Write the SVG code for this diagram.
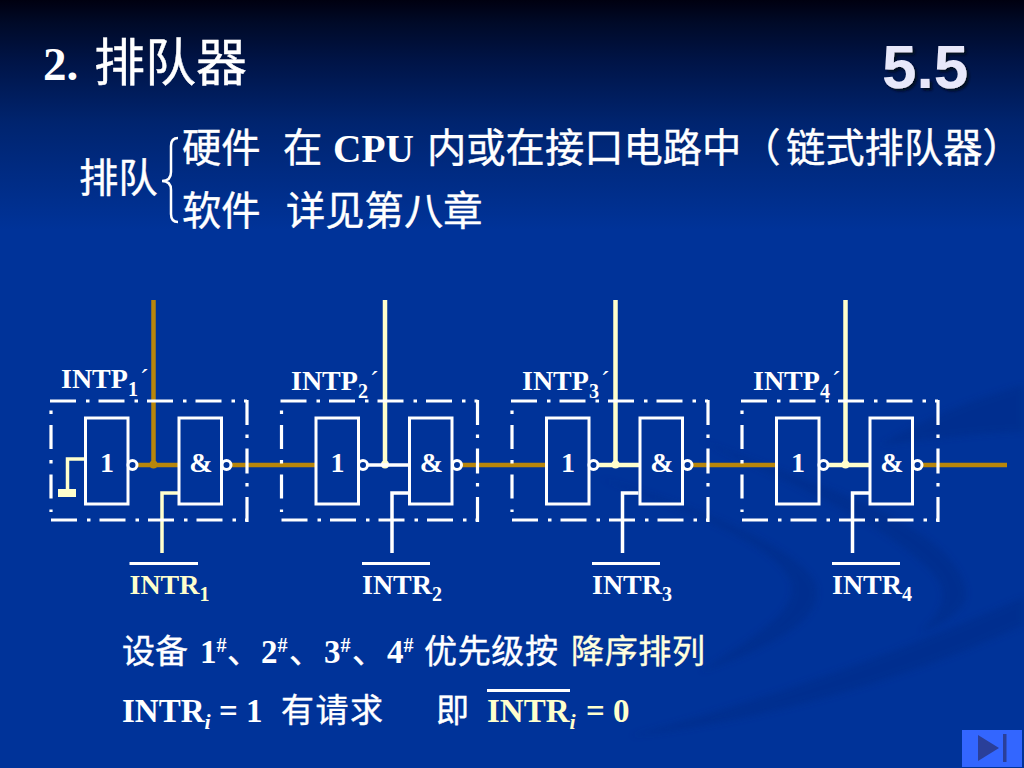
<svg xmlns="http://www.w3.org/2000/svg" width="1024" height="768" viewBox="0 0 1024 768">
<defs>
<linearGradient id="bg" x1="0" y1="0" x2="0" y2="1">
<stop offset="0" stop-color="#000010"/><stop offset="0.03" stop-color="#000a28"/><stop offset="0.08" stop-color="#001447"/><stop offset="0.16" stop-color="#00246f"/><stop offset="0.3" stop-color="#003399"/><stop offset="1" stop-color="#003399"/>
</linearGradient>
<filter id="soft" x="-10%" y="-10%" width="120%" height="120%"><feGaussianBlur stdDeviation="3"/></filter>
<filter id="shadow" x="-10%" y="-10%" width="120%" height="120%"><feDropShadow dx="2.500" dy="2.500" stdDeviation="1" flood-color="#000820"/></filter>
<g id="frame">
<path class="dh" d="M50 401H247M51 520H247"/>
<path class="dl" d="M51 410.500V512"/>
<path class="dr" d="M247 400V522"/>
<rect class="box" x="85.500" y="418" width="42.500" height="86"/>
<rect class="box" x="179" y="418" width="42.500" height="86"/>
<circle class="bub" cx="132.500" cy="465" r="4.500"/>
<circle class="bub" cx="226.500" cy="465" r="4.500"/>
<text class="lat gl" x="107" y="472" text-anchor="middle">1</text>
<text class="lat gl" x="201" y="472" text-anchor="middle">&amp;</text>
</g>
</defs>
<style>
.lat{font-family:"Liberation Serif",serif;font-weight:700;fill:#fff}
.cjk{font-family:"Noto Sans CJK SC","Liberation Sans",sans-serif;fill:#fff;stroke:#fff;stroke-width:.4}
.gl,.lb{font-size:28px}
.sub{font-size:20px}
.pr{font-size:26px;font-weight:400}
.y{fill:#ffffcc}
.cream{fill:#ffffdd;stroke:#ffffdd}
.dh,.dl,.dr{fill:none;stroke:#fff;stroke-width:3.200}
.dh{stroke-dasharray:26 10 3.500 9}
.dl{stroke-dasharray:3.500 11 24 11}
.dr{stroke-dasharray:25 9.500 3.500 10.500}
.box{fill:none;stroke:#fff;stroke-width:3}
.bub{fill:#003399;stroke:#fff;stroke-width:3}
.w{fill:none;stroke:#fff;stroke-width:3.500}
.wy{fill:none;stroke:#ffffcc;stroke-width:4.500}
.wl{fill:none;stroke:#ffffcc;stroke-width:3.500}
.wg{fill:none;stroke:#b8860b;stroke-width:4.500}
.ol{stroke:#fff;stroke-width:3}
.t33{font-size:33px}
.t39{font-size:39.300px}
</style>
<rect width="1024" height="768" fill="url(#bg)"/>
<g fill="#002a85" opacity="0.45" filter="url(#soft)">
<path d="M630 736C760 702 900 652 1024 597V625C900 682 760 722 630 736Z"/>
<path d="M600 478C700 508 802 548 816 585C824 612 790 642 700 672C760 632 800 610 790 580C770 540 680 510 600 478Z"/>
<path d="M700 440C800 480 952 520 966 590C969 610 942 625 920 632C945 610 950 590 930 570C880 520 780 480 700 440Z"/>
<path d="M880 445C930 415 985 395 1024 385V432C985 432 930 440 880 445Z"/>
</g>

<g id="title">
<text class="lat" x="43" y="80" font-size="47">2.</text>
<text class="cjk" x="94" y="81" font-size="51">排队器</text>
</g>
<g id="section-number">
<text x="882" y="88" font-family="Liberation Sans,sans-serif" font-weight="700" font-size="62" fill="#e8e8fa" filter="url(#shadow)">5.5</text>
</g>
<g id="queue-brace">
<text class="cjk t39" x="79" y="192">排队</text>
<path d="M178 138Q171 138 171 146V172Q171 181 162 181Q171 181 171 190V214Q171 222 178 222" fill="none" stroke="#fff" stroke-width="2.500"/>
</g>
<g id="hardware-line">
<text class="cjk t39" x="182" y="162">硬件</text>
<text class="cjk t39" x="283" y="162">在</text>
<text class="lat t39" x="333" y="162">CPU</text>
<text class="cjk t39" x="427" y="162">内或在接口电路中（</text>
<text class="cjk t39" x="786" y="162">链式排队器）</text>
</g>
<g id="software-line">
<text class="cjk t39" x="182" y="225">软件</text>
<text class="cjk t39" x="286" y="225">详见第八章</text>
</g>

<g id="connectors">
<path class="wg" d="M153.500 300V465M136.500 465H179M230 465H315M460.500 465H546M691 465H776M921.500 465H1007"/>
<circle cx="153.500" cy="464.500" r="4" fill="#b8860b"/>
<path class="wl" d="M85 459H67.500V490M178 493H162V553"/>
<rect x="58" y="489" width="18" height="8" fill="#ffffcc"/>
<path class="wy" d="M385 300V465"/>
<circle cx="385" cy="464.500" r="4" fill="#ffffcc"/>
<path class="w" d="M367 465H409M408 493H392V553"/>
<path class="wy" d="M615.500 300V465M845.500 300V465M598 465H639M828.500 465H870"/>
<circle cx="615.500" cy="464.500" r="4" fill="#ffffcc"/>
<circle cx="845.500" cy="464.500" r="4" fill="#ffffcc"/>
<path class="w" d="M638.500 493H622.500V553M869 493H852.500V553"/>
</g>

<g id="unit-1">
<use href="#frame"/>
<text class="lat lb" x="61" y="388">INTP<tspan class="sub" dy="8">1</tspan><tspan class="lat pr" dx="2" dy="-9">´</tspan></text>
<path class="ol" d="M129.500 563.500H198"/>
<text class="lat lb y" x="129.500" y="594">INTR<tspan class="sub" dy="7">1</tspan></text>
</g>
<g id="unit-2">
<use href="#frame" x="230.500"/>
<text class="lat lb" x="291" y="390">INTP<tspan class="sub" dy="8">2</tspan><tspan class="lat pr" dx="2" dy="-9">´</tspan></text>
<path class="ol" d="M362 563.500H430"/>
<text class="lat lb" x="362" y="594">INTR<tspan class="sub" dy="7">2</tspan></text>
</g>
<g id="unit-3">
<use href="#frame" x="461"/>
<text class="lat lb" x="522" y="390">INTP<tspan class="sub" dy="8">3</tspan><tspan class="lat pr" dx="2" dy="-9">´</tspan></text>
<path class="ol" d="M592 563.500H660"/>
<text class="lat lb" x="592" y="594">INTR<tspan class="sub" dy="7">3</tspan></text>
</g>
<g id="unit-4">
<use href="#frame" x="691"/>
<text class="lat lb" x="753" y="390">INTP<tspan class="sub" dy="8">4</tspan><tspan class="lat pr" dx="2" dy="-9">´</tspan></text>
<path class="ol" d="M832 563.500H900"/>
<text class="lat lb" x="832" y="594">INTR<tspan class="sub" dy="7">4</tspan></text>
</g>

<g id="priority-note">
<text class="cjk t33" x="122" y="663">设备</text>
<text class="lat t33" x="200" y="663">1<tspan font-size="20" dy="-11">#</tspan></text>
<text class="cjk t33" x="227" y="663">、</text>
<text class="lat t33" x="261" y="663">2<tspan font-size="20" dy="-11">#</tspan></text>
<text class="cjk t33" x="289" y="663">、</text>
<text class="lat t33" x="324" y="663">3<tspan font-size="20" dy="-11">#</tspan></text>
<text class="cjk t33" x="352" y="663">、</text>
<text class="lat t33" x="387" y="663">4<tspan font-size="20" dy="-11">#</tspan></text>
<text class="cjk t33" x="424" y="663" textLength="134">优先级按</text>
<text class="cjk t33 cream" x="571" y="663" textLength="134">降序排列</text>
</g>
<g id="intr-note">
<text class="lat t33" x="122" y="722">INTR<tspan font-size="22" font-style="italic" dy="7">i</tspan><tspan x="219" dy="-7">= 1</tspan></text>
<text class="cjk t33" x="281" y="722" textLength="102">有请求</text>
<text class="cjk t33" x="436" y="722">即</text>
<path class="ol" d="M487 690.500H570"/>
<text class="lat t33 y" x="487" y="722">INTR<tspan font-size="22" font-style="italic" dy="7">i</tspan><tspan x="586" dy="-7">= 0</tspan></text>
</g>
<g id="next-button">
<rect x="962" y="730" width="60" height="37" fill="#3366ff"/>
<path d="M978 735L999 748L978 761Z" fill="#2a3f99"/>
<rect x="1003" y="734" width="3.500" height="28" fill="#2a3f99"/>
</g>
</svg>
